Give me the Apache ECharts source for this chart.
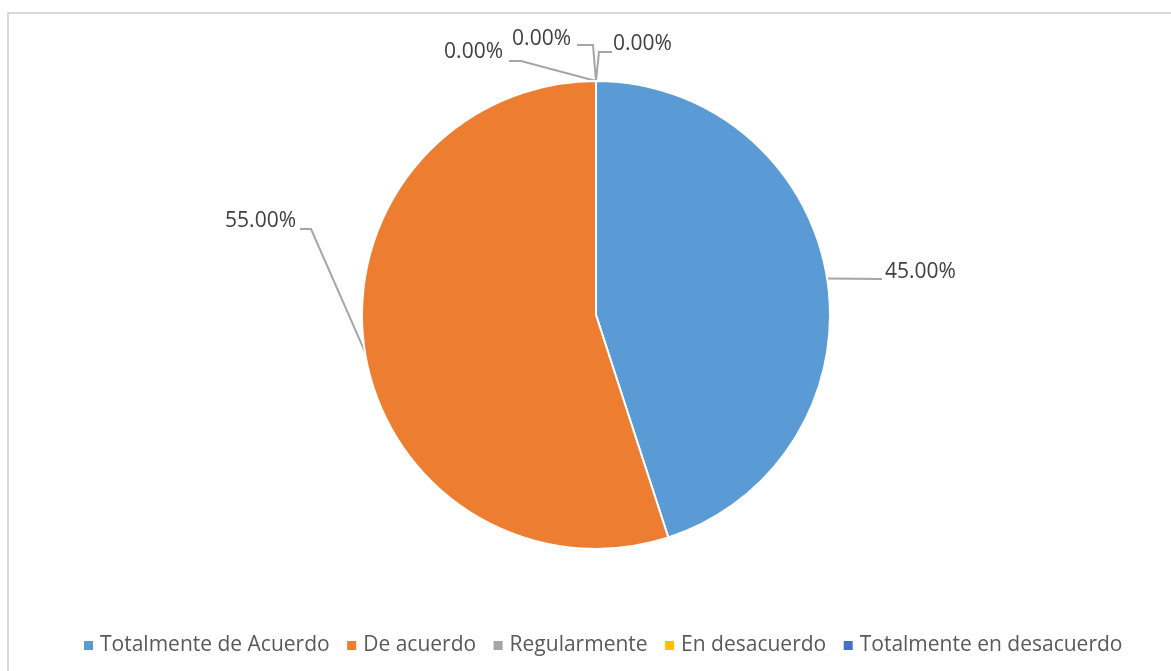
<!DOCTYPE html>
<html>
<head>
<meta charset="utf-8">
<script src="https://cdn.jsdelivr.net/npm/echarts@6/dist/echarts.min.js"></script>
<style>
  html, body { margin: 0; padding: 0; background: #fff; }
  #frame { position: absolute; left: 7px; top: 12px; width: 1200px; height: 700px;
           border-left: 2px solid #d9d9d9; border-top: 2px solid #d9d9d9; }
  #chart { position: absolute; left: 0; top: 0; width: 1171px; height: 671px; }
</style>
</head>
<body>
<div id="frame"></div>
<div id="chart"></div>
<script>
// data
const categories = ['Totalmente de Acuerdo', 'De acuerdo', 'Regularmente', 'En desacuerdo', 'Totalmente en desacuerdo'];
const percents = [45, 55, 0, 0, 0];
const colors = ['#5B9BD5', '#ED7D31', '#A5A5A5', '#FFC000', '#4472C4'];

// where each label goes (text anchor, elbow, end of leader line)
const labelSpots = [
  { x: 885, y: 272, align: 'left',  elbow: null,       end: [882, 279] },
  { x: 296, y: 221, align: 'right', elbow: [311, 229], end: [300, 229] },
  { x: 503, y: 52,  align: 'right', elbow: [521, 61],  end: [509, 61] },
  { x: 571, y: 39,  align: 'right', elbow: [593, 45],  end: [577, 45] },
  { x: 613, y: 44,  align: 'left',  elbow: [599, 52],  end: [612, 52] }
];

let myChart = echarts.init(document.getElementById('chart'));

let option = {
  backgroundColor: 'transparent',
  color: colors,
  textStyle: { fontFamily: 'Open Sans' },
  legend: {
    left: 79,
    top: 630,
    icon: 'rect',
    itemWidth: 9,
    itemHeight: 9,
    itemGap: 17.5,
    itemStyle: { borderWidth: 0 },
    textStyle: { fontSize: 21, color: '#595959', fontFamily: 'Open Sans', padding: [0, 0, 0, 2] },
    data: categories
  },
  series: [
    {
      type: 'pie',
      center: [596, 315],
      radius: 234,
      startAngle: 90,
      clockwise: true,
      avoidLabelOverlap: false,
      minAngle: 0,
      stillShowZeroSum: true,
      itemStyle: { borderColor: '#fff', borderWidth: 2 },
      label: {
        show: true,
        formatter: p => p.value.toFixed(2) + '%',
        fontSize: 21,
        color: '#404040',
        fontFamily: 'Open Sans'
      },
      labelLine: { show: true, length: 20, length2: 10, lineStyle: { color: '#a6a6a6', width: 2 } },
      labelLayout: function (params) {
        const s = labelSpots[params.dataIndex];
        const start = params.labelLinePoints ? params.labelLinePoints[0] : s.end;
        const pts = s.elbow ? [start, s.elbow, s.end] : [start, s.end];
        return {
          x: s.x,
          y: s.y,
          align: s.align,
          verticalAlign: 'middle',
          labelLinePoints: pts
        };
      },
      emphasis: { disabled: true },
      animation: false,
      data: categories.map((c, i) => ({ name: c, value: percents[i] }))
    }
  ]
};

myChart.setOption(option);
</script>
</body>
</html>
